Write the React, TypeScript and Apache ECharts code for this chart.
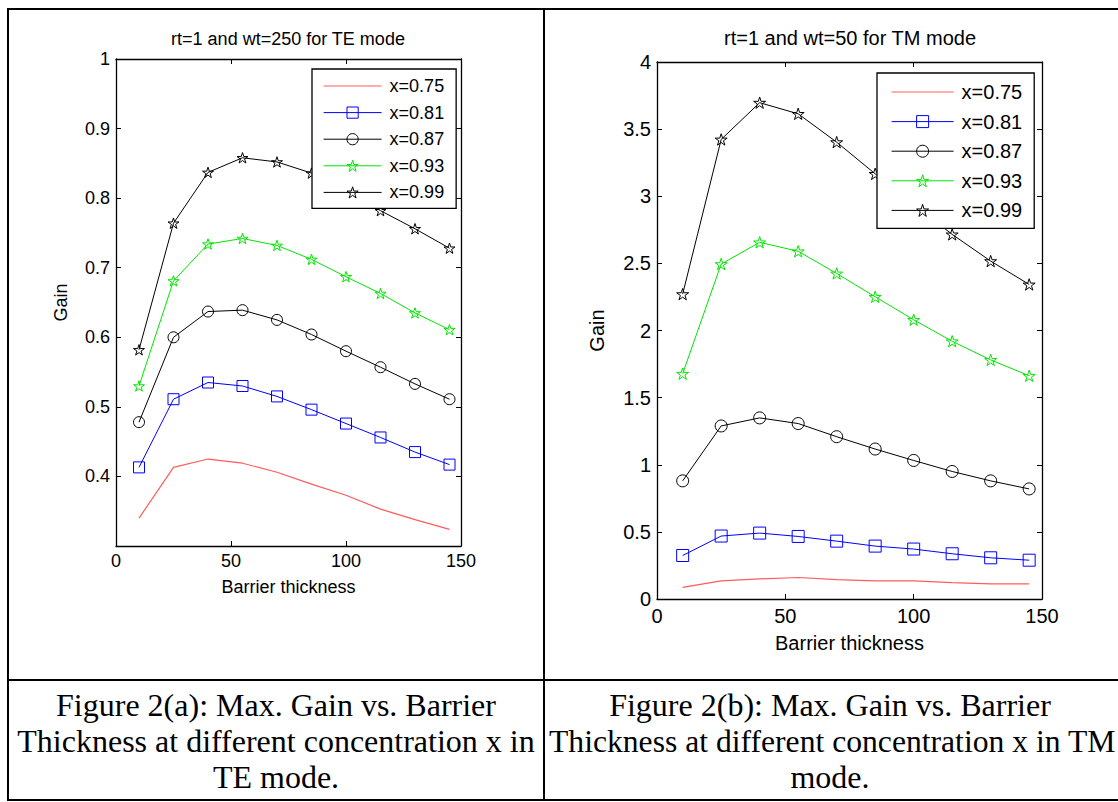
import React, { useEffect, useRef } from "react";
import * as echarts from "echarts";

// Barrier thickness samples shared by both panels
const thickness = [10, 25, 40, 55, 70, 85, 100, 115, 130, 145];
const seriesNames = ["x=0.75", "x=0.81", "x=0.87", "x=0.93", "x=0.99"];

// TE mode (rt=1, wt=250): max gain per concentration
const teGain075 = [0.34, 0.413, 0.425, 0.419, 0.406, 0.389, 0.373, 0.353, 0.338, 0.324];
const teGain081 = [0.413, 0.511, 0.535, 0.53, 0.515, 0.496, 0.476, 0.456, 0.435, 0.417];
const teGain087 = [0.478, 0.6, 0.637, 0.639, 0.625, 0.604, 0.58, 0.557, 0.533, 0.511];
const teGain093 = [0.53, 0.681, 0.734, 0.742, 0.732, 0.712, 0.687, 0.663, 0.635, 0.611];
const teGain099 = [0.582, 0.764, 0.837, 0.858, 0.852, 0.836, 0.81, 0.782, 0.756, 0.728];

// TM mode (rt=1, wt=50): max gain per concentration
const tmGain075 = [0.087, 0.135, 0.15, 0.16, 0.145, 0.135, 0.135, 0.122, 0.112, 0.112];
const tmGain081 = [0.324, 0.469, 0.491, 0.466, 0.431, 0.394, 0.372, 0.337, 0.307, 0.289];
const tmGain087 = [0.88, 1.289, 1.349, 1.307, 1.209, 1.117, 1.032, 0.95, 0.88, 0.82];
const tmGain093 = [1.678, 2.495, 2.657, 2.59, 2.425, 2.251, 2.08, 1.92, 1.781, 1.663];
const tmGain099 = [2.271, 3.423, 3.697, 3.614, 3.403, 3.167, 2.94, 2.716, 2.517, 2.343];

const xTicks = { min: 0, max: 150, interval: 50 };
const teYTicks = { min: 0.3, max: 1, interval: 0.1 };
const tmYTicks = { min: 0, max: 4, interval: 0.5 };

const teTitle = "rt=1 and wt=250 for TE mode";
const tmTitle = "rt=1 and wt=50 for TM mode";
const xName = "Barrier thickness";
const yName = "Gain";

const captionA = [
  "Figure 2(a): Max. Gain vs. Barrier",
  "Thickness at different concentration x in",
  "TE mode.",
];
const captionB = [
  "Figure 2(b): Max. Gain vs. Barrier",
  "Thickness at different concentration x in TM",
  "mode.",
];

const SANS = "'Liberation Sans', Arial, Helvetica, sans-serif";
const SERIF = "'Liberation Serif', 'Times New Roman', serif";
const CAPTION_SIZE = 32;
const STAR =
  "path://M0,-10L2.245,-3.09L9.51,-3.09L3.633,1.18L5.88,8.09L0,3.82L-5.88,8.09L-3.633,1.18L-9.51,-3.09L-2.245,-3.09Z";

const lineColors = ["#ff5c5c", "#0000ff", "#000000", "#00e600", "#000000"];
const markers = ["none", "rect", "circle", STAR, STAR];
const HOLLOW = "rgba(255,255,255,0)";

type Panel = {
  grid: { left: number; top: number; width: number; height: number };
  font: number;
  y: { min: number; max: number; interval: number };
  hideMinLabel: boolean;
  values: number[][];
  title: string;
  titlePos: [number, number];
  xNameGap: number;
  yNameGap: number;
  xLabelMargin: number;
  symbolSize: number;
  legend: {
    left: number;
    top: number;
    itemWidth: number;
    itemHeight: number;
    itemGap: number;
    padding: number[];
  };
};

const panels: Panel[] = [
  {
    grid: { left: 116, top: 59, width: 345, height: 487 },
    font: 18,
    y: teYTicks,
    hideMinLabel: true,
    values: [teGain075, teGain081, teGain087, teGain093, teGain099],
    title: teTitle,
    titlePos: [288, 39],
    xNameGap: 32,
    yNameGap: 46,
    xLabelMargin: 6,
    symbolSize: 11,
    legend: { left: 312, top: 69, itemWidth: 58, itemHeight: 14, itemGap: 8.6, padding: [8, 12, 7, 11] },
  },
  {
    grid: { left: 657, top: 62, width: 385, height: 537 },
    font: 20,
    y: tmYTicks,
    hideMinLabel: false,
    values: [tmGain075, tmGain081, tmGain087, tmGain093, tmGain099],
    title: tmTitle,
    titlePos: [850, 38],
    xNameGap: 34,
    yNameGap: 50,
    xLabelMargin: 7,
    symbolSize: 12,
    legend: { left: 877, top: 73, itemWidth: 62, itemHeight: 15, itemGap: 9.6, padding: [9, 12, 8, 14] },
  },
];

function fmtTick(v: number, hideMin: boolean, min: number) {
  if (hideMin && Math.abs(v - min) < 1e-9) return "";
  return String(Math.round(v * 1000) / 1000);
}

// width of a caption line in the serif face, used to keep the long line inside the page
function measure(text: string, size: number) {
  const ctx = document.createElement("canvas").getContext("2d");
  if (!ctx) return text.length * size * 0.45;
  ctx.font = `${size}px ${SERIF}`;
  return ctx.measureText(text).width;
}

function buildOption() {
  const grid: any[] = [];
  const xAxis: any[] = [];
  const yAxis: any[] = [];
  const series: any[] = [];
  const legend: any[] = [];
  const graphic: any[] = [];

  panels.forEach((p, i) => {
    grid.push({ ...p.grid, show: false, containLabel: false });
    const axisLine = { onZero: false, lineStyle: { color: "#000", width: 1.3 } };
    const axisTick = { inside: true, length: 5, lineStyle: { color: "#000", width: 1 } };
    const labelStyle = { color: "#000", fontSize: p.font, fontFamily: SANS };

    xAxis.push({
      gridIndex: i,
      type: "value",
      position: "bottom",
      ...xTicks,
      axisLine,
      axisTick,
      splitLine: { show: false },
      axisLabel: { ...labelStyle, margin: p.xLabelMargin },
      name: xName,
      nameLocation: "middle",
      nameGap: p.xNameGap,
      nameTextStyle: labelStyle,
    });
    xAxis.push({
      gridIndex: i,
      type: "value",
      position: "top",
      ...xTicks,
      axisLine,
      axisTick,
      splitLine: { show: false },
      axisLabel: { show: false },
    });
    yAxis.push({
      gridIndex: i,
      type: "value",
      position: "left",
      min: p.y.min,
      max: p.y.max,
      interval: p.y.interval,
      axisLine,
      axisTick,
      splitLine: { show: false },
      axisLabel: {
        ...labelStyle,
        margin: 6,
        formatter: (v: number) => fmtTick(v, p.hideMinLabel, p.y.min),
      },
      name: yName,
      nameLocation: "middle",
      nameGap: p.yNameGap,
      nameTextStyle: labelStyle,
    });
    yAxis.push({
      gridIndex: i,
      type: "value",
      position: "right",
      min: p.y.min,
      max: p.y.max,
      interval: p.y.interval,
      axisLine,
      axisTick,
      splitLine: { show: false },
      axisLabel: { show: false },
    });

    p.values.forEach((vals, k) => {
      series.push({
        type: "line",
        name: seriesNames[k],
        xAxisIndex: 2 * i,
        yAxisIndex: 2 * i,
        data: thickness.map((t, j) => [t, vals[j]]),
        symbol: markers[k],
        symbolSize: p.symbolSize,
        symbolKeepAspect: true,
        showSymbol: markers[k] !== "none",
        lineStyle: { color: lineColors[k], width: k === 0 ? 1.2 : 1 },
        itemStyle: { color: HOLLOW, borderColor: lineColors[k], borderWidth: 1 },
        emphasis: { disabled: true },
        silent: true,
        z: 2 + k,
      });
    });

    legend.push({
      data: seriesNames.map((name, k) => ({
        name,
        itemStyle:
          markers[k] === "none"
            ? { color: HOLLOW, borderColor: HOLLOW, borderWidth: 0, opacity: 0 }
            : { color: HOLLOW, borderColor: lineColors[k], borderWidth: 1 },
        lineStyle: { color: lineColors[k], width: k === 0 ? 1.2 : 1 },
      })),
      orient: "vertical",
      left: p.legend.left,
      top: p.legend.top,
      itemWidth: p.legend.itemWidth,
      itemHeight: p.legend.itemHeight,
      itemGap: p.legend.itemGap,
      padding: p.legend.padding,
      backgroundColor: "#fff",
      borderColor: "#000",
      borderWidth: 1.3,
      borderRadius: 0,
      selectedMode: false,
      textStyle: { color: "#000", fontSize: p.font, fontFamily: SANS, padding: [0, 0, 0, 3] },
      z: 10,
    });

    graphic.push({
      type: "text",
      x: p.titlePos[0],
      y: p.titlePos[1],
      style: {
        text: p.title,
        fontSize: p.font,
        fontFamily: SANS,
        fill: "#000",
        align: "center",
        verticalAlign: "middle",
      },
    });
  });

  // table frame around the two figures and their captions
  graphic.push(
    {
      type: "rect",
      shape: { x: 8, y: 9, width: 1140, height: 791 },
      style: { fill: "none", stroke: "#000", lineWidth: 2 },
      silent: true,
    },
    {
      type: "line",
      shape: { x1: 544, y1: 9, x2: 544, y2: 800 },
      style: { stroke: "#000", lineWidth: 2 },
      silent: true,
    },
    {
      type: "line",
      shape: { x1: 8, y1: 680, x2: 1118, y2: 680 },
      style: { stroke: "#000", lineWidth: 2 },
      silent: true,
    }
  );

  const captionRows = [705, 741, 777];
  captionA.forEach((line, r) => {
    graphic.push({
      type: "text",
      x: 276,
      y: captionRows[r],
      style: { text: line, fontSize: CAPTION_SIZE, fontFamily: SERIF, fill: "#000", align: "center", verticalAlign: "middle" },
    });
  });
  captionB.forEach((line, r) => {
    const wide = r === 1;
    const avail = 1116 - 549;
    const w = wide ? measure(line, CAPTION_SIZE) : 0;
    const sx = wide && w > avail ? avail / w : 1;
    graphic.push({
      type: "text",
      x: wide ? 549 : 830,
      y: captionRows[r],
      scaleX: sx,
      style: {
        text: line,
        fontSize: CAPTION_SIZE,
        fontFamily: SERIF,
        fill: "#000",
        align: wide ? "left" : "center",
        verticalAlign: "middle",
      },
    });
  });

  return {
    animation: false,
    backgroundColor: "#fff",
    grid,
    xAxis,
    yAxis,
    series,
    legend,
    graphic,
  };
}

export default function App() {
  const ref = useRef<HTMLDivElement>(null);
  useEffect(() => {
    if (!ref.current) return;
    const chart = echarts.init(ref.current, undefined, { renderer: "svg" });
    chart.setOption(buildOption() as any);
    return () => chart.dispose();
  }, []);
  return (
    <div
      ref={ref}
      style={{ position: "absolute", left: 0, top: 0, width: 1118, height: 802, background: "#fff" }}
    />
  );
}
